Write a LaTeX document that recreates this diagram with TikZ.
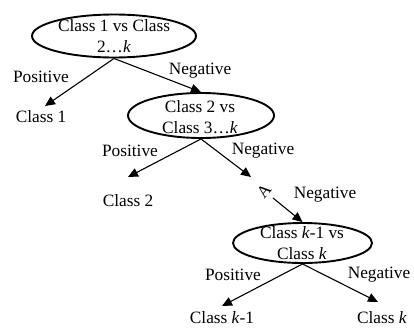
\documentclass[tikz,border=0pt]{standalone}
\usepackage{fontspec}
\setmainfont{Liberation Serif}
\usetikzlibrary{arrows.meta,shapes.geometric}
\begin{document}
\begin{tikzpicture}[x=1pt,y=-1pt,
  every node/.style={font=\fontsize{17.3}{21}\selectfont, inner sep=0pt},
  oval/.style={draw, ellipse, line width=1.9pt},
  txt/.style={align=center},
  arr/.style={line width=1.1pt, -{Triangle[length=10pt,width=9pt]}}]
\useasboundingbox (0,0) rectangle (414,327);
% ellipses
\node[oval, minimum width=164pt, minimum height=43pt] (e1) at (114,36) {};
\node[oval, minimum width=146pt, minimum height=45pt] (e2) at (201,115.5) {};
\node[oval, minimum width=139pt, minimum height=40pt] (e3) at (302.5,243) {};
% ellipse texts
\node[txt] (t1) at (114,36) {Class 1 vs Class\\2…\textit{k}};
\node[txt] (t2) at (200,117) {Class 2 vs\\Class 3…\textit{k}};
\node[txt] (t3) at (302,243.5) {Class \textit{k}-1 vs\\Class \textit{k}};
% leaves
\node (c1) at (41,117) {Class 1};
\node (c2) at (128,201) {Class 2};
\node (ck1) at (222,318) {Class \textit{k}-1};
\node (ck) at (382,318) {Class \textit{k}};
% arrow tips
\coordinate (p1) at (45,106);
\coordinate (p2) at (128,177);
\coordinate (n2) at (251,177);
\coordinate (d0) at (273,198);
\coordinate (p3) at (222,306);
\coordinate (n3) at (378,302);
% connectors
\draw[arr] (e1.south) -- (p1);
\draw[arr] (e1.south) -- (e2.north);
\draw[arr] (e2.south) -- (p2);
\draw[arr] (e2.south) -- (n2);
\draw[arr] (d0) -- (e3.north);
\draw[arr] (e3.south) -- (p3);
\draw[arr] (e3.south) -- (n3);
% edge labels
\node (l1p) at (41,77) {Positive};
\node (l1n) at (200,71) {Negative};
\node (l2p) at (130,151) {Positive};
\node (l2n) at (263,151) {Negative};
\node (l3d) at (325,195) {Negative};
\node (l4p) at (233,275) {Positive};
\node (l4n) at (379,275) {Negative};
\node[rotate=50] (dots) at (264,191) {A};
\end{tikzpicture}
\end{document}
